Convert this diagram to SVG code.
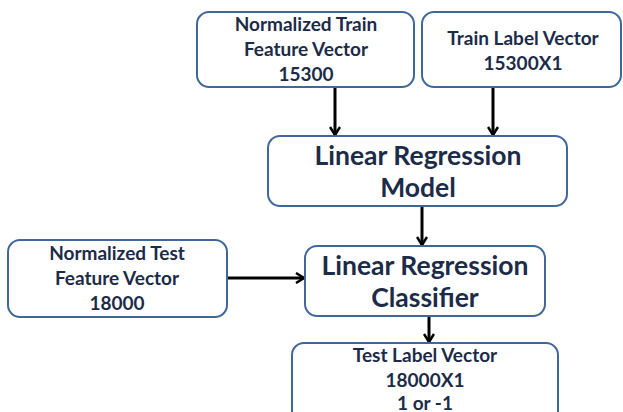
<svg xmlns="http://www.w3.org/2000/svg" width="623" height="412" viewBox="0 0 623 412">
<defs>
<style>
.box{fill:#ffffff;stroke:#41679a;stroke-width:2}
.t{font-family:Lato,"Open Sans","Liberation Sans",sans-serif;font-weight:bold;fill:#1c2b48;text-anchor:middle}
.s{font-size:19px}
.l{font-size:26.5px}
.c{stroke:#000;stroke-width:3;fill:none}
</style>
<marker id="ah" viewBox="0 0 12 12" refX="10" refY="6" markerWidth="12" markerHeight="12" markerUnits="userSpaceOnUse" orient="auto">
<path d="M2,1 L10,6 L2,11" fill="none" stroke="#000" stroke-width="2.5"/>
</marker>
</defs>
<rect width="623" height="412" fill="#ffffff"/>
<g id="connectors">
<line class="c" x1="335" y1="87" x2="335" y2="135" marker-end="url(#ah)"/>
<line class="c" x1="493" y1="87" x2="493" y2="135" marker-end="url(#ah)"/>
<line class="c" x1="422" y1="206" x2="422" y2="245" marker-end="url(#ah)"/>
<line class="c" x1="227" y1="278" x2="304" y2="278" marker-end="url(#ah)"/>
<line class="c" x1="429" y1="316" x2="429" y2="342" marker-end="url(#ah)"/>
</g>
<g id="train-feature">
<rect class="box" x="197" y="12" width="217" height="75" rx="12"/>
<text class="t s" x="306" y="31">Normalized Train</text>
<text class="t s" x="306" y="56">Feature Vector</text>
<text class="t s" x="306" y="81">15300</text>
</g>
<g id="train-label">
<rect class="box" x="422" y="12" width="199" height="75" rx="12"/>
<text class="t s" x="523" y="45">Train Label Vector</text>
<text class="t s" x="523" y="70">15300X1</text>
</g>
<g id="model">
<rect class="box" x="268" y="136" width="299" height="70" rx="12"/>
<text class="t l" x="418" y="165">Linear Regression</text>
<text class="t l" x="418" y="197">Model</text>
</g>
<g id="test-feature">
<rect class="box" x="8" y="240" width="219" height="77" rx="12"/>
<text class="t s" x="117" y="260">Normalized Test</text>
<text class="t s" x="117" y="285">Feature Vector</text>
<text class="t s" x="117" y="310">18000</text>
</g>
<g id="classifier">
<rect class="box" x="305" y="246" width="240" height="70" rx="12"/>
<text class="t l" x="425" y="275">Linear Regression</text>
<text class="t l" x="425" y="307">Classifier</text>
</g>
<g id="test-label">
<rect class="box" x="292" y="343" width="266" height="80" rx="12"/>
<text class="t s" x="425" y="362">Test Label Vector</text>
<text class="t s" x="425" y="387">18000X1</text>
<text class="t s" x="425" y="410">1 or -1</text>
</g>
</svg>
